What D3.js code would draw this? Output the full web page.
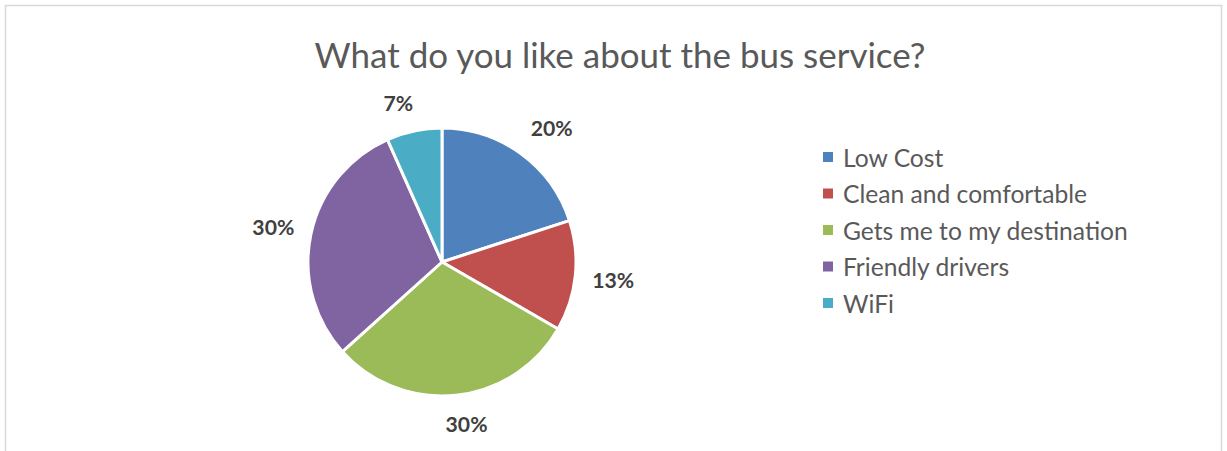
<!DOCTYPE html>
<html>
<head>
<meta charset="utf-8">
<script src="https://cdn.jsdelivr.net/npm/d3@7/dist/d3.min.js"></script>
<style>
  html, body { margin: 0; padding: 0; background: #fff; }
  svg { display: block; }
  text { font-family: Lato, "Open Sans", "Liberation Sans", sans-serif; }
</style>
</head>
<body>
<svg id="chart" width="1227" height="451"></svg>
<script>
// Survey answers: number of respondents per answer
const categories = ["Low Cost", "Clean and comfortable", "Gets me to my destination", "Friendly drivers", "WiFi"];
const counts = [6, 4, 9, 9, 2];
const colors = ["#4F81BD", "#C0504D", "#9BBB59", "#8064A2", "#4BACC6"];
const title = "What do you like about the bus service?";

const svg = d3.select("#chart");

// chart frame
svg.append("rect")
  .attr("x", 5.5).attr("y", 5.5)
  .attr("width", 1216).attr("height", 450)
  .attr("fill", "#fff")
  .attr("stroke", "#d9d9d9").attr("stroke-width", 1.5);

// fit a text element's font size so it spans a given width
function fitWidth(sel, targetW, startSize) {
  sel.attr("font-size", startSize);
  const w = sel.node().getComputedTextLength();
  sel.attr("font-size", startSize * targetW / w);
  return startSize * targetW / w;
}

// title
const t = svg.append("text")
  .attr("x", 620).attr("y", 68)
  .attr("text-anchor", "middle")
  .attr("fill", "#595959")
  .text(title);
fitWidth(t, 611, 28);

// pie
const cx = 442, cy = 262, r = 134;
const total = d3.sum(counts);
const pie = d3.pie().sort(null).value(d => d)(counts);
const arc = d3.arc().innerRadius(0).outerRadius(r);

const g = svg.append("g").attr("transform", `translate(${cx},${cy})`);
g.selectAll("path.slice")
  .data(pie)
  .join("path")
  .attr("class", "slice")
  .attr("d", arc)
  .attr("fill", (d, i) => colors[i])
  .attr("stroke", "#fff")
  .attr("stroke-width", 3)
  .attr("stroke-linejoin", "round");

// percentage labels outside each slice
const pct = d3.format(".0%");
const labelR = 151;
const labels = g.selectAll("text.lbl")
  .data(pie)
  .join("text")
  .attr("class", "lbl")
  .attr("text-anchor", "middle")
  .attr("dominant-baseline", "central")
  .attr("font-weight", "bold")
  .attr("fill", "#404040")
  .text(d => pct(d.value / total));

// size from a two-digit label
let lblSize = 20;
{
  const probe = labels.filter((d, i) => i === 0);
  lblSize = fitWidth(probe, 42, 20);
}
labels.attr("font-size", lblSize);

// push each label box outward so it clears the rim
const clamp = v => Math.max(-1, Math.min(1, v));
labels.each(function (d) {
  const a = (d.startAngle + d.endAngle) / 2;
  const ux = Math.sin(a), uy = -Math.cos(a);
  const bb = this.getBBox();
  const x = ux * labelR + clamp(4 * ux) * bb.width / 2;
  const y = uy * labelR + clamp(1.5 * uy) * bb.height / 2 * 0.9;
  d3.select(this).attr("x", x).attr("y", y);
});

// legend
const legY = d3.scalePoint().domain(categories).range([157, 303]);
const leg = svg.append("g");
const items = leg.selectAll("g.item")
  .data(categories)
  .join("g")
  .attr("class", "item")
  .attr("transform", d => `translate(823,${legY(d)})`);
items.append("rect")
  .attr("x", 0).attr("y", -5)
  .attr("width", 10).attr("height", 10)
  .attr("fill", (d, i) => colors[i]);
const legText = items.append("text")
  .attr("x", 20).attr("y", 0)
  .attr("dominant-baseline", "central")
  .attr("fill", "#595959")
  .text(d => d);
{
  const longest = legText.filter(d => d === "Gets me to my destination");
  const s = fitWidth(longest, 285, 22);
  legText.attr("font-size", s);
}
</script>
</body>
</html>
